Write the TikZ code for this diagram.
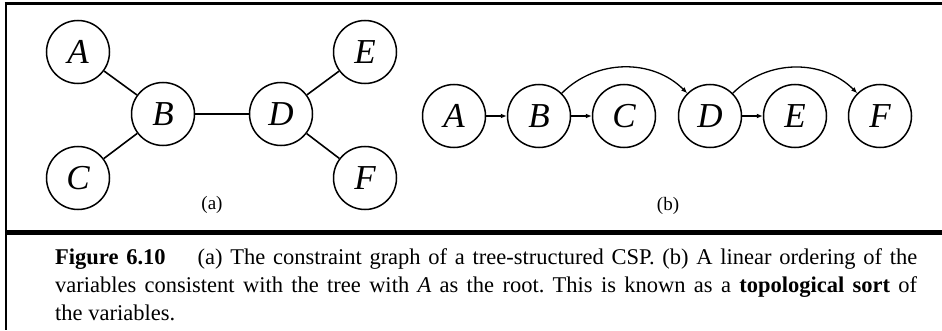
\documentclass[tikz,border=0pt]{standalone}
\usepackage{fontspec}
\setmainfont{Liberation Serif}
\usetikzlibrary{arrows.meta}
\frenchspacing
\begin{document}
\begin{tikzpicture}[x=1pt,y=1pt,
  vnode/.style={circle,draw,line width=1.5pt,minimum size=63pt,inner sep=0pt,
    font=\fontsize{35}{35}\selectfont\itshape},
  edge/.style={line width=1.6pt},
  arr/.style={line width=1.3pt,-{Latex[length=6pt,width=5pt]}},
  capline/.style={anchor=base west,inner sep=0pt,font=\fontsize{22.5}{28}\selectfont},
  sublabel/.style={inner sep=0pt,font=\fontsize{19}{19}\selectfont}]
\useasboundingbox (0,0) rectangle (942,330);
% frame
\draw[line width=3pt] (4.5,326) -- (942,326);
\draw[line width=2pt] (6,327) -- (6,0);
\draw[line width=5pt] (6,98) -- (942,98);
% (a) tree
\node[vnode] (A) at (78,278) {A};
\node[vnode] (B) at (163,216) {B};
\node[vnode] (C) at (78,152) {C};
\node[vnode] (D) at (281,216) {D};
\node[vnode] (E) at (365,278) {E};
\node[vnode] (F) at (365,152) {F};
\draw[edge] (A) -- (B);
\draw[edge] (C) -- (B);
\draw[edge] (B) -- (D);
\draw[edge] (D) -- (E);
\draw[edge] (D) -- (F);
\node[sublabel] (la) at (212,125) {(a)};
% (b) ordering
\node[vnode] (A2) at (454,214) {A};
\node[vnode] (B2) at (539,214) {B};
\node[vnode] (C2) at (624,214) {C};
\node[vnode] (D2) at (710,214) {D};
\node[vnode] (E2) at (795,214) {E};
\node[vnode] (F2) at (880,214) {F};
\draw[arr] (A2) -- (B2);
\draw[arr] (B2) -- (C2);
\draw[arr] (D2) -- (E2);
\draw[arr] (B2.45) to[out=45,in=135] (D2.135);
\draw[arr] (D2.45) to[out=45,in=135] (F2.135);
\node[sublabel] (lb) at (668,124) {(b)};
% caption
\node[capline] (cap1) at (55,66) {\makebox[862pt][s]{\textbf{Figure 6.10}\hspace{32pt}(a) The constraint graph of a tree-structured CSP. (b) A linear ordering of the}};
\node[capline] (cap2) at (55,38) {\makebox[862pt][s]{variables consistent with the tree with \textit{A} as the root. This is known as a \textbf{topological sort} of}};
\node[capline] (cap3) at (55,10) {the variables.};
\end{tikzpicture}
\end{document}
